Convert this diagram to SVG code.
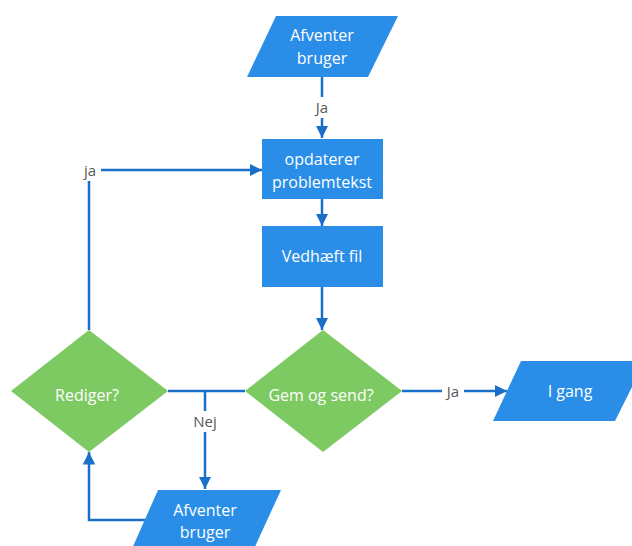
<svg xmlns="http://www.w3.org/2000/svg" width="632" height="546" viewBox="0 0 632 546">
<defs>
<style>
.blue{fill:#2A8EE8;}
.green{fill:#7DC962;}
.t{font-family:"Open Sans","Liberation Sans",sans-serif;font-size:16px;fill:#ffffff;text-anchor:middle;}
.lbl{font-family:"Open Sans","Liberation Sans",sans-serif;font-size:15px;fill:#595959;text-anchor:middle;}
.c{fill:none;stroke:#1A70C8;stroke-width:2.5;}
.bg{fill:#ffffff;}
</style>
<marker id="ah" viewBox="0 0 10 10" refX="10" refY="5" markerWidth="5" markerHeight="5" markerUnits="strokeWidth" orient="auto">
<path d="M0,0 L10,5 L0,10 Z" fill="#1A70C8"/>
</marker>
</defs>
<rect width="632" height="546" fill="#ffffff"/>
<g id="connectors">
<path class="c" d="M322,77 V138" marker-end="url(#ah)"/>
<path class="c" d="M322,199 V226" marker-end="url(#ah)"/>
<path class="c" d="M322,287 V330" marker-end="url(#ah)"/>
<path class="c" d="M168,391 H245"/>
<path class="c" d="M205,391 V489" marker-end="url(#ah)"/>
<path class="c" d="M402,391 H507" marker-end="url(#ah)"/>
<path class="c" d="M89,330 V170 H262" marker-end="url(#ah)"/>
<path class="c" d="M150,520 H89 V452" marker-end="url(#ah)"/>
<rect class="bg" x="311" y="97" width="22" height="21"/>
<text class="lbl" x="322" y="113">Ja</text>
<rect class="bg" x="79" y="160" width="22" height="21"/>
<text class="lbl" x="90" y="176">ja</text>
<rect class="bg" x="191" y="411" width="28" height="21"/>
<text class="lbl" x="205" y="427">Nej</text>
<rect class="bg" x="442" y="381" width="22" height="21"/>
<text class="lbl" x="453" y="397">Ja</text>
</g>
<g id="n_afventer_top">
<polygon class="blue" points="276,16 398,16 368,77 247,77"/>
<text class="t" x="322" y="41">Afventer</text>
<text class="t" x="322" y="64">bruger</text>
</g>
<g id="n_opdaterer">
<rect class="blue" x="262" y="139" width="121" height="60"/>
<text class="t" x="322" y="165">opdaterer</text>
<text class="t" x="322" y="188">problemtekst</text>
</g>
<g id="n_vedhaeft">
<rect class="blue" x="262" y="226" width="121" height="61"/>
<text class="t" x="322" y="262">Vedhæft fil</text>
</g>
<g id="n_gem">
<polygon class="green" points="323,330 402,391 323,452 245,391"/>
<text class="t" x="321" y="401">Gem og send?</text>
</g>
<g id="n_rediger">
<polygon class="green" points="89,330 168,391 89,452 11,391"/>
<text class="t" x="87" y="401">Rediger?</text>
</g>
<g id="n_igang">
<polygon class="blue" points="521,361 645,361 615,421 493,421"/>
<text class="t" x="570" y="397">I gang</text>
</g>
<g id="n_afventer_bottom">
<polygon class="blue" points="158,490 281,490 253,551 131,551"/>
<text class="t" x="205" y="516">Afventer</text>
<text class="t" x="205" y="538">bruger</text>
</g>
</svg>
